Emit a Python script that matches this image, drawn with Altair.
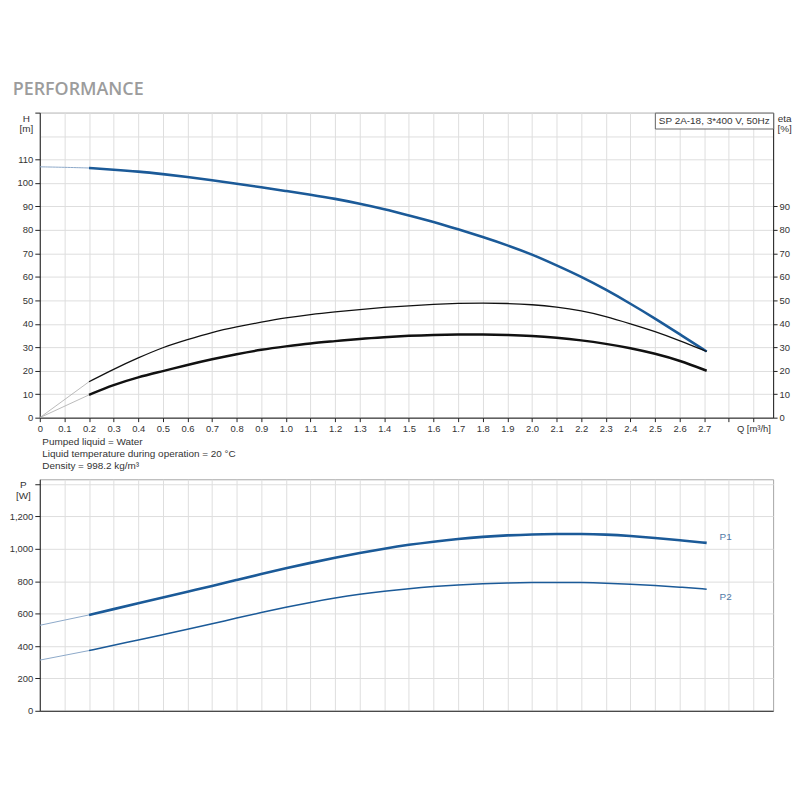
import altair as alt
import pandas as pd

# ---------------- data ----------------
MODEL = "SP 2A-18, 3*400 V, 50Hz"

# extrapolated (thin) parts near Q = 0
Q_H_EXT = [0.0, 0.1, 0.2]
H_EXT = [106.9, 106.7, 106.4]
Q_EXT = [0.0, 0.2]
ETA_P_EXT = [0.0, 15.3]
ETA_T_EXT = [0.0, 9.7]
P1_EXT = [528, 592]
P2_EXT = [313, 372]

# main curves
Q = [0.2, 0.3, 0.4, 0.5, 0.6, 0.7, 0.8, 0.9, 1.0, 1.1, 1.2, 1.3, 1.4,
     1.5, 1.6, 1.7, 1.8, 1.9, 2.0, 2.1, 2.2, 2.3, 2.4, 2.5, 2.6, 2.71]
H = [106.4, 105.7, 104.9, 103.8, 102.6, 101.2, 99.7, 98.2, 96.6, 95.0, 93.3, 91.2, 88.9,
     86.2, 83.5, 80.3, 77.0, 73.5, 69.6, 64.9, 60.1, 54.6, 48.6, 42.3, 35.6, 28.2]
ETA_P = [15.3, 20.7, 25.5, 30.0, 33.3, 36.4, 38.7, 40.7, 42.6, 44.0, 45.1, 46.1, 47.0,
         47.7, 48.3, 48.7, 48.9, 48.7, 48.2, 47.2, 45.6, 43.2, 40.0, 36.8, 32.9, 28.2]
ETA_T = [9.7, 14.0, 17.3, 19.8, 22.5, 24.9, 27.1, 29.0, 30.4, 31.7, 32.6, 33.6, 34.3,
         34.9, 35.3, 35.5, 35.5, 35.3, 34.9, 34.1, 33.0, 31.5, 29.7, 27.3, 24.4, 20.0]
P1 = [592, 628, 664, 700, 736, 771, 808, 845, 880, 914, 946, 975, 1002,
      1026, 1045, 1062, 1075, 1084, 1090, 1092, 1093, 1089, 1080, 1068, 1054, 1037]
P2 = [372, 405, 437, 470, 503, 537, 573, 607, 640, 670, 697, 720, 739,
      755, 768, 778, 785, 790, 792, 793, 793, 789, 782, 774, 764, 751]

X_TICKS = [round(i / 10, 1) for i in range(30)]
H_TICKS = list(range(0, 131, 10))
ETA_TICKS = list(range(0, 91, 10))
P_TICKS = list(range(0, 1401, 200))
INFO = ["Pumped liquid = Water",
        "Liquid temperature during operation = 20 °C",
        "Density = 998.2 kg/m³"]

BLUE = "#1b5a98"
BLUE_EXT = "#8ca8c9"
GRAY_EXT = "#a9a9a9"
BLACK = "#111111"
SMOOTH = "basis"

df_h_ext = pd.DataFrame({"Q": Q_H_EXT, "H": H_EXT})
df_h = pd.DataFrame({"Q": Q, "H": H, "model": MODEL})
df_ep_ext = pd.DataFrame({"Q": Q_EXT, "eta": ETA_P_EXT})
df_ep = pd.DataFrame({"Q": Q, "eta": ETA_P})
df_et_ext = pd.DataFrame({"Q": Q_EXT, "eta": ETA_T_EXT})
df_et = pd.DataFrame({"Q": Q, "eta": ETA_T})
df_p1_ext = pd.DataFrame({"Q": Q_EXT, "P": P1_EXT})
df_p1 = pd.DataFrame({"Q": Q, "P": P1})
df_p2_ext = pd.DataFrame({"Q": Q_EXT, "P": P2_EXT})
df_p2 = pd.DataFrame({"Q": Q, "P": P2})
df_lab1 = pd.DataFrame({"Q": [Q[-1]], "P": [P1[-1]], "t": ["P1"]})
df_lab2 = pd.DataFrame({"Q": [Q[-1]], "P": [P2[-1]], "t": ["P2"]})

XSCALE = alt.Scale(domain=[0, 2.98], nice=False, zero=False)

X_TOP = alt.X(
    "Q:Q", scale=XSCALE,
    axis=alt.Axis(
        values=X_TICKS,
        labelExpr="datum.value < 0.01 ? '0' : (datum.value > 2.85 ? 'Q [m³/h]' : (datum.value > 2.75 ? '' : format(datum.value, '.1f')))",
        labelFlush=False, labelOverlap=False, tickSize=4, labelPadding=2,
        grid=True, title=INFO, titleAnchor="start", titleAlign="left",
        titleBaseline="alphabetic", titleX=2, titleY=27, titleLineHeight=12.2,
    ),
)
X_BOT = alt.X(
    "Q:Q", scale=XSCALE,
    axis=alt.Axis(values=X_TICKS, labels=False, ticks=False, title=None, grid=True),
)

Y_H = alt.Y(
    "H:Q", scale=alt.Scale(domain=[0, 130], nice=False),
    axis=alt.Axis(
        orient="left", values=H_TICKS,
        labelExpr="datum.value > 110 ? '' : datum.label",
        tickOpacity={"condition": {"test": "datum.value == 120", "value": 0}, "value": 1},
        tickSize=5, labelPadding=2, grid=True,
        title=["H", "[m]"], titleAngle=0, titleAlign="center", titleBaseline="top",
        titleX=-14, titleY=0.5, titleLineHeight=11,
    ),
)
Y_ETA = alt.Y(
    "eta:Q", scale=alt.Scale(domain=[0, 130], nice=False),
    axis=alt.Axis(
        orient="right", values=ETA_TICKS, tickSize=4, labelPadding=2, grid=False,
        title=["eta", "[%]"], titleAngle=0, titleAlign="center", titleBaseline="top",
        titleX=11, titleY=0.5, titleLineHeight=11,
    ),
)
Y_P = alt.Y(
    "P:Q", scale=alt.Scale(domain=[0, 1430], nice=False),
    axis=alt.Axis(
        values=P_TICKS, format=",d",
        labelExpr="datum.value > 1300 ? '' : datum.label",
        tickSize=5, labelPadding=2, grid=True,
        title=["P", "[W]"], titleAngle=0, titleAlign="center", titleBaseline="top",
        titleX=-17, titleY=0.5, titleLineHeight=11,
    ),
)

# ---------------- top chart: H and eta ----------------
h_ext = alt.Chart(df_h_ext).mark_line(color=BLUE_EXT, strokeWidth=1, interpolate=SMOOTH).encode(x=X_TOP, y=Y_H)
h_main = alt.Chart(df_h).mark_line(strokeWidth=2.6, interpolate=SMOOTH).encode(
    x=X_TOP, y=Y_H,
    color=alt.Color(
        "model:N", scale=alt.Scale(range=[BLUE]),
        legend=alt.Legend(
            title=None, orient="top-right", offset=0, padding=3,
            symbolSize=0, symbolOpacity=0, symbolStrokeWidth=0,
            labelOffset={"expr": "-9"},
            labelFontSize=10, labelColor="#333", labelLimit=300,
            strokeColor="#666", fillColor="white",
        ),
    ),
)
h_group = alt.layer(h_ext, h_main)

ep_ext = alt.Chart(df_ep_ext).mark_line(color=GRAY_EXT, strokeWidth=0.8).encode(x=X_TOP, y=Y_ETA)
ep_main = alt.Chart(df_ep).mark_line(color=BLACK, strokeWidth=1.3, interpolate=SMOOTH).encode(x=X_TOP, y=Y_ETA)
et_ext = alt.Chart(df_et_ext).mark_line(color=GRAY_EXT, strokeWidth=0.8).encode(x=X_TOP, y=Y_ETA)
et_main = alt.Chart(df_et).mark_line(color=BLACK, strokeWidth=2.5, interpolate=SMOOTH).encode(x=X_TOP, y=Y_ETA)
eta_group = alt.layer(ep_ext, ep_main, et_ext, et_main)

top = alt.layer(h_group, eta_group).resolve_scale(y="independent").properties(width=738, height=307)

# ---------------- bottom chart: P1, P2 ----------------
p1_ext = alt.Chart(df_p1_ext).mark_line(color=BLUE_EXT, strokeWidth=1).encode(x=X_BOT, y=Y_P)
p1_main = alt.Chart(df_p1).mark_line(color=BLUE, strokeWidth=2.6, interpolate=SMOOTH).encode(x=X_BOT, y=Y_P)
p2_ext = alt.Chart(df_p2_ext).mark_line(color=BLUE_EXT, strokeWidth=1).encode(x=X_BOT, y=Y_P)
p2_main = alt.Chart(df_p2).mark_line(color=BLUE, strokeWidth=1.5, interpolate=SMOOTH).encode(x=X_BOT, y=Y_P)
lab1 = alt.Chart(df_lab1).mark_text(align="left", baseline="middle", dx=13, dy=-6, fontSize=10, color="#4f78a6").encode(
    x=X_BOT, y=Y_P, text="t:N")
lab2 = alt.Chart(df_lab2).mark_text(align="left", baseline="middle", dx=13, dy=8, fontSize=10, color="#4f78a6").encode(
    x=X_BOT, y=Y_P, text="t:N")

bottom = alt.layer(p1_ext, p1_main, p2_ext, p2_main, lab1, lab2).properties(width=738, height=233)

chart = (
    alt.vconcat(top, bottom, spacing=62, bounds="flush")
    .resolve_scale(y="independent", color="independent")
    .properties(
        title=alt.TitleParams(
            "PERFORMANCE", anchor="start", frame="bounds", fontSize=18,
            font="Open Sans", fontWeight=600, color="#9c9c9c",
            baseline="alphabetic", offset=-1, dx=4,
        ),
        padding={"left": 0, "top": 71, "right": 0, "bottom": 5},
    )
    .configure(font="Liberation Sans")
    .configure_view(stroke="#a6a6a6", strokeWidth=1)
    .configure_axis(
        labelFontSize=9.5, labelColor="#333", titleFontSize=10, titleColor="#333",
        titleFontWeight="normal", gridColor="#dedede", gridWidth=1,
        domainColor="#222", tickColor="#222",
    )
)

chart.save("out.html", embed_options={"renderer": "svg", "actions": False})
